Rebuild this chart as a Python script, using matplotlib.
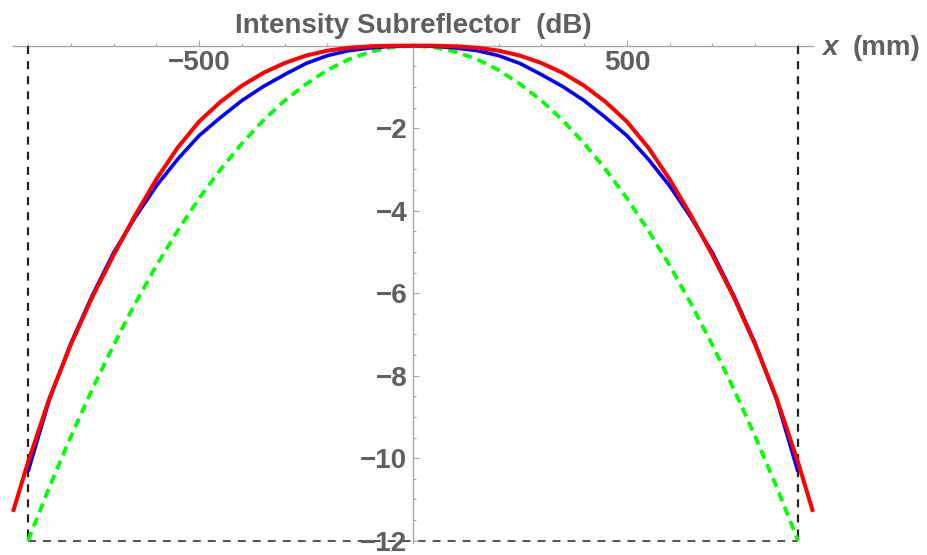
import matplotlib
matplotlib.use("Agg")
from matplotlib import pyplot as plt
from matplotlib.ticker import MultipleLocator, FixedLocator

# Readings from the reference (x in mm, intensity in dB)
x_red = [-935, -900, -850, -800, -750, -700, -650, -600, -550, -500, -450, -400,
         -350, -300, -250, -200, -150, -100, -50, 0, 50, 100, 150, 200, 250, 300,
         350, 400, 450, 500, 550, 600, 650, 700, 750, 800, 850, 900, 935]
y_red = [-11.30, -10.10, -8.55, -7.25, -6.10, -5.08, -4.12, -3.24, -2.47, -1.84,
         -1.36, -0.97, -0.66, -0.42, -0.24, -0.12, -0.05, -0.015, 0.0, 0.0, 0.0,
         -0.015, -0.05, -0.12, -0.24, -0.42, -0.66, -0.97, -1.36, -1.84, -2.47,
         -3.24, -4.12, -5.08, -6.10, -7.25, -8.55, -10.10, -11.30]

x_blue = [-900, -850, -800, -750, -700, -650, -600, -550, -500, -450, -400, -350,
          -300, -250, -200, -150, -100, -50, 0, 50, 100, 150, 200, 250, 300, 350,
          400, 450, 500, 550, 600, 650, 700, 750, 800, 850, 900]
y_blue = [-10.33, -8.58, -7.22, -6.06, -5.02, -4.17, -3.40, -2.75, -2.18, -1.74,
          -1.33, -0.99, -0.70, -0.43, -0.24, -0.12, -0.055, -0.015, 0.0, -0.015,
          -0.055, -0.12, -0.24, -0.43, -0.70, -0.99, -1.33, -1.74, -2.18, -2.75,
          -3.40, -4.17, -5.02, -6.06, -7.22, -8.58, -10.33]

x_green = [-900, -850, -800, -750, -700, -650, -600, -550, -500, -450, -400, -350,
           -300, -250, -200, -150, -100, -50, 0, 50, 100, 150, 200, 250, 300, 350,
           400, 450, 500, 550, 600, 650, 700, 750, 800, 850, 900]
y_green = [-12.0, -10.70, -9.48, -8.33, -7.26, -6.26, -5.33, -4.48, -3.70, -3.00,
           -2.37, -1.81, -1.33, -0.93, -0.59, -0.33, -0.15, -0.04, 0.0, -0.04,
           -0.15, -0.33, -0.59, -0.93, -1.33, -1.81, -2.37, -3.00, -3.70, -4.48,
           -5.33, -6.26, -7.26, -8.33, -9.48, -10.70, -12.0]

edge_x = [-900, 900]   # subreflector edges
edge_db = -12

x_ticks = [-500, 500]
y_ticks = [-2, -4, -6, -8, -10, -12]

txt_gray = "#5f5f5f"
axis_gray = "#a8a8a8"
font = "Liberation Sans"

fig = plt.figure(figsize=(9.27, 5.55), dpi=100)
ax = fig.add_axes([13 / 927, 12.2 / 555, 800 / 927, 497.1 / 555])
ax.set_xlim(-935, 935)
ax.set_ylim(-12.05, 0)

# edge markers
for xe in edge_x:
    ax.plot([xe, xe], [0, edge_db], color="#222222", lw=1.6,
            dashes=(3.6, 3.2), zorder=1, clip_on=False)
ax.plot(edge_x, [edge_db, edge_db], color="#444444", lw=1.3,
        dashes=(4.4, 3.9), zorder=1, clip_on=False)

ax.plot(x_green, y_green, color="#00ff00", lw=2.7, dashes=(2.5, 1.6),
        zorder=2, clip_on=False, solid_joinstyle="round")
ax.plot(x_blue, y_blue, color="#0000ff", lw=2.6, zorder=3, clip_on=False,
        solid_capstyle="butt", solid_joinstyle="round")
ax.plot(x_red, y_red, color="#ff0000", lw=2.9, zorder=4, clip_on=False,
        solid_capstyle="butt", solid_joinstyle="round")

# Mathematica-like axes through the origin
for s in ["top", "right"]:
    ax.spines[s].set_visible(False)
ax.spines["left"].set_position(("data", 0))
ax.spines["bottom"].set_position(("data", 0))
for s in ["left", "bottom"]:
    ax.spines[s].set_color(axis_gray)
    ax.spines[s].set_linewidth(1.0)
    ax.spines[s].set_zorder(0)

ax.xaxis.set_major_locator(FixedLocator(x_ticks))
ax.xaxis.set_minor_locator(MultipleLocator(100))
ax.yaxis.set_major_locator(FixedLocator(y_ticks))
ax.yaxis.set_minor_locator(MultipleLocator(0.5))
ax.set_xticklabels([f"\u2212{abs(v)}" if v < 0 else str(v) for v in x_ticks])
ax.set_yticklabels([f"\u2212{abs(v)}" for v in y_ticks])

ax.tick_params(which="both", direction="in", color=axis_gray, width=0.8)
ax.tick_params(which="major", length=4.5)
ax.tick_params(which="minor", length=2.5)
ax.tick_params(axis="x", which="major", pad=3)
ax.tick_params(axis="y", which="major", pad=4)
for lab in ax.get_xticklabels() + ax.get_yticklabels():
    lab.set_fontfamily(font)
    lab.set_fontweight("bold")
    lab.set_fontsize(20)
    lab.set_color(txt_gray)

ax.patch.set_alpha(0)

ax.annotate("Intensity Subreflector  (dB)", xy=(0, 0), xycoords="data",
            xytext=(0, 9), textcoords="offset points", ha="center",
            va="baseline", fontsize=20, fontweight="bold", color=txt_gray,
            family=font, annotation_clip=False)
ax.annotate("x", xy=(935, 0), xycoords="data", xytext=(6.5, -6.8),
            textcoords="offset points", ha="left", va="baseline",
            fontsize=20, fontweight="bold", fontstyle="italic",
            color=txt_gray, family=font, annotation_clip=False)
ax.annotate("(mm)", xy=(935, 0), xycoords="data", xytext=(28.5, -6.8),
            textcoords="offset points", ha="left", va="baseline",
            fontsize=20, fontweight="bold", color=txt_gray, family=font,
            annotation_clip=False)

fig.savefig("out.png", dpi=100)
